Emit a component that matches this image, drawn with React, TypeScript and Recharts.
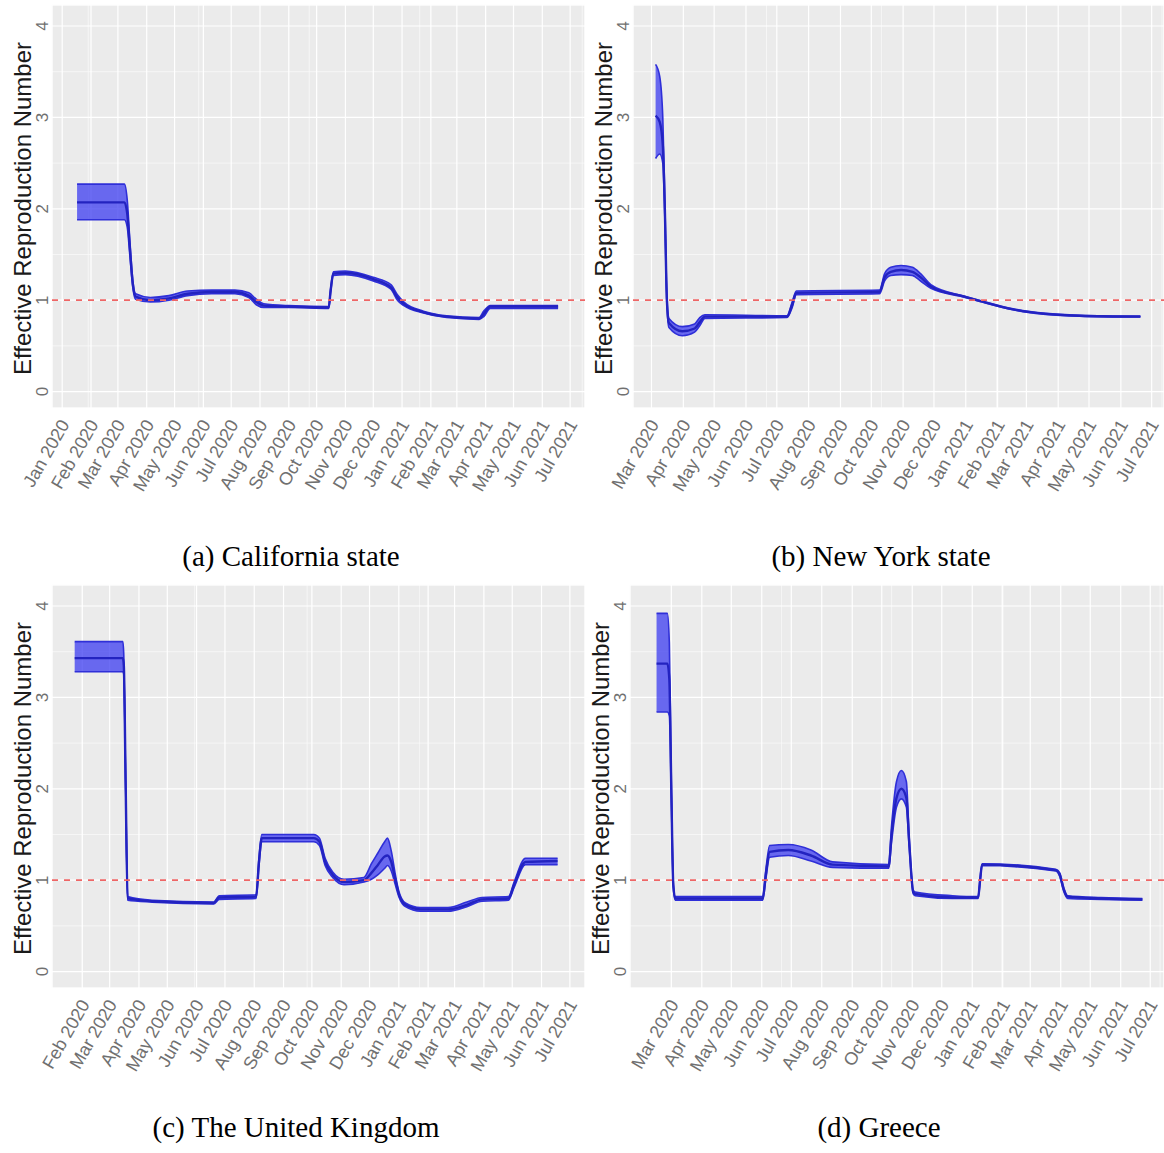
import React from "react";
import {
  ComposedChart,
  Area,
  Line,
  XAxis,
  YAxis,
  CartesianGrid,
  ReferenceLine,
} from "recharts";

// ---------- shared axis data ----------
const MONTH_ABBR = ["Jan", "Feb", "Mar", "Apr", "May", "Jun", "Jul", "Aug", "Sep", "Oct", "Nov", "Dec"];
const ALL_MONTHS = [
  "2020-01-01", "2020-02-01", "2020-03-01", "2020-04-01", "2020-05-01", "2020-06-01",
  "2020-07-01", "2020-08-01", "2020-09-01", "2020-10-01", "2020-11-01", "2020-12-01",
  "2021-01-01", "2021-02-01", "2021-03-01", "2021-04-01", "2021-05-01", "2021-06-01",
  "2021-07-01",
];
const Y_TICKS = [0, 1, 2, 3, 4];
const Y_MINOR = [0.5, 1.5, 2.5, 3.5];
const Y_DOMAIN: [number, number] = [-0.18, 4.23];
const THRESHOLD = 1;
const Y_TITLE = "Effective Reproduction Number";

// ---------- (a) California state ----------
const CAPTION_A = "(a) California state";
const DOMAIN_A = ["2019-12-21", "2021-07-17"];
const FIRST_MONTH_A = "2020-01-01";
const DATES_A = [
  "2020-01-17", "2020-03-08", "2020-03-11", "2020-03-14", "2020-03-17", "2020-03-20",
  "2020-04-05", "2020-04-25", "2020-05-15", "2020-06-10", "2020-07-05", "2020-07-20",
  "2020-07-28", "2020-08-05", "2020-09-01", "2020-10-14", "2020-10-16", "2020-10-19",
  "2020-11-01", "2020-12-01", "2020-12-20", "2020-12-27", "2021-01-03", "2021-01-24",
  "2021-02-18", "2021-03-25", "2021-03-30", "2021-04-06", "2021-06-18",
];
const MEAN_A = [2.07, 2.07, 1.95, 1.55, 1.18, 1.04, 1.0, 1.02, 1.07, 1.09, 1.09, 1.05, 0.98, 0.94, 0.93, 0.92, 1.1, 1.29, 1.3, 1.23, 1.14, 1.03, 0.96, 0.87, 0.82, 0.8, 0.85, 0.93, 0.93];
const LOW_A = [1.88, 1.88, 1.8, 1.47, 1.14, 1.01, 0.98, 1.0, 1.05, 1.07, 1.07, 1.03, 0.95, 0.92, 0.92, 0.91, 1.08, 1.27, 1.28, 1.21, 1.12, 1.0, 0.94, 0.86, 0.81, 0.79, 0.82, 0.91, 0.91];
const HIGH_A = [2.27, 2.27, 2.1, 1.63, 1.22, 1.07, 1.03, 1.05, 1.1, 1.11, 1.11, 1.08, 1.01, 0.96, 0.94, 0.93, 1.12, 1.31, 1.32, 1.25, 1.17, 1.06, 0.98, 0.88, 0.83, 0.81, 0.88, 0.94, 0.94];

// ---------- (b) New York state ----------
const CAPTION_B = "(b) New York state";
const DOMAIN_B = ["2020-02-12", "2021-07-13"];
const FIRST_MONTH_B = "2020-03-01";
const DATES_B = [
  "2020-03-05", "2020-03-09", "2020-03-12", "2020-03-14", "2020-03-16", "2020-03-18",
  "2020-03-31", "2020-04-12", "2020-04-17", "2020-04-22", "2020-07-11", "2020-07-16",
  "2020-07-20", "2020-10-09", "2020-10-14", "2020-10-20", "2020-10-30", "2020-11-10",
  "2020-11-18", "2020-11-28", "2020-12-30", "2021-01-15", "2021-02-16", "2021-03-20",
  "2021-04-22", "2021-06-20",
];
const MEAN_B = [3.02, 2.95, 2.7, 2.0, 1.0, 0.75, 0.66, 0.69, 0.76, 0.82, 0.82, 0.95, 1.08, 1.09, 1.25, 1.31, 1.33, 1.31, 1.25, 1.15, 1.04, 0.99, 0.9, 0.85, 0.83, 0.82];
const LOW_B = [2.55, 2.6, 2.5, 1.9, 0.95, 0.7, 0.61, 0.65, 0.72, 0.8, 0.81, 0.92, 1.06, 1.07, 1.21, 1.27, 1.28, 1.27, 1.21, 1.13, 1.035, 0.985, 0.895, 0.845, 0.825, 0.815];
const HIGH_B = [3.58, 3.45, 3.0, 2.1, 1.05, 0.8, 0.71, 0.74, 0.81, 0.84, 0.83, 0.98, 1.1, 1.11, 1.29, 1.36, 1.38, 1.36, 1.29, 1.17, 1.045, 0.995, 0.905, 0.855, 0.835, 0.825];

// ---------- (c) The United Kingdom ----------
const CAPTION_C = "(c) The United Kingdom";
const DOMAIN_C = ["2019-12-31", "2021-07-17"];
const FIRST_MONTH_C = "2020-02-01";
const DATES_C = [
  "2020-01-24", "2020-03-15", "2020-03-16", "2020-03-18", "2020-03-20", "2020-04-15",
  "2020-06-19", "2020-06-25", "2020-08-03", "2020-08-06", "2020-08-09", "2020-10-03",
  "2020-10-09", "2020-10-15", "2020-10-23", "2020-11-04", "2020-11-25", "2020-12-03",
  "2020-12-10", "2020-12-17", "2020-12-20", "2020-12-24", "2020-12-28", "2021-01-01",
  "2021-01-08", "2021-01-24", "2021-02-22", "2021-03-14", "2021-03-30", "2021-04-27",
  "2021-05-03", "2021-05-15", "2021-06-18",
];
const MEAN_C = [3.43, 3.43, 3.35, 2.0, 0.8, 0.77, 0.75, 0.81, 0.82, 1.2, 1.46, 1.46, 1.42, 1.2, 1.06, 0.98, 1.0, 1.08, 1.17, 1.26, 1.27, 1.2, 1.02, 0.85, 0.73, 0.68, 0.68, 0.73, 0.79, 0.8, 0.95, 1.2, 1.21];
const LOW_C = [3.28, 3.28, 3.25, 1.97, 0.78, 0.76, 0.74, 0.79, 0.8, 1.16, 1.42, 1.42, 1.38, 1.16, 1.03, 0.95, 0.98, 1.01, 1.06, 1.13, 1.16, 1.1, 0.96, 0.82, 0.71, 0.66, 0.66, 0.71, 0.77, 0.78, 0.92, 1.17, 1.17];
const HIGH_C = [3.61, 3.61, 3.45, 2.03, 0.82, 0.78, 0.76, 0.83, 0.84, 1.24, 1.5, 1.5, 1.46, 1.24, 1.09, 1.01, 1.03, 1.18, 1.3, 1.42, 1.46, 1.32, 1.08, 0.88, 0.75, 0.7, 0.7, 0.76, 0.81, 0.82, 0.98, 1.24, 1.24];

// ---------- (d) Greece ----------
const CAPTION_D = "(d) Greece";
const DOMAIN_D = ["2020-01-19", "2021-07-15"];
const FIRST_MONTH_D = "2020-03-01";
const DATES_D = [
  "2020-02-15", "2020-02-26", "2020-02-28", "2020-03-01", "2020-03-03", "2020-03-05",
  "2020-06-02", "2020-06-05", "2020-06-09", "2020-06-28", "2020-07-21", "2020-08-12",
  "2020-10-08", "2020-10-11", "2020-10-16", "2020-10-21", "2020-10-26", "2020-10-29",
  "2020-11-02", "2020-11-04", "2020-12-12", "2021-01-07", "2021-01-09", "2021-01-11",
  "2021-03-27", "2021-03-31", "2021-04-04", "2021-04-08", "2021-05-12", "2021-06-23",
];
const MEAN_D = [3.37, 3.37, 3.2, 2.0, 0.95, 0.8, 0.8, 1.05, 1.31, 1.33, 1.27, 1.17, 1.15, 1.5, 1.9, 2.0, 1.9, 1.4, 0.87, 0.85, 0.81, 0.81, 1.0, 1.17, 1.11, 1.06, 0.9, 0.82, 0.8, 0.79];
const LOW_D = [2.84, 2.84, 2.8, 1.9, 0.92, 0.78, 0.78, 1.0, 1.25, 1.27, 1.21, 1.14, 1.13, 1.42, 1.8, 1.89, 1.8, 1.35, 0.85, 0.83, 0.8, 0.8, 0.98, 1.16, 1.1, 1.04, 0.88, 0.8, 0.79, 0.78];
const HIGH_D = [3.92, 3.92, 3.6, 2.1, 0.98, 0.82, 0.82, 1.1, 1.38, 1.39, 1.33, 1.2, 1.17, 1.6, 2.08, 2.2, 2.08, 1.45, 0.89, 0.87, 0.83, 0.82, 1.02, 1.18, 1.12, 1.08, 0.92, 0.83, 0.81, 0.8];

// ---------- styling ----------
const SANS = "'Liberation Sans', Arial, Helvetica, sans-serif";
const SERIF = "'Liberation Serif', 'Times New Roman', Times, serif";
const PANEL_BG = "#ebebeb";
const TICK_COLOR = "#707070";
const BAND_FILL = "#3535f0";
const BAND_EDGE = "#2f2fd8";
const LINE_COLOR = "#2323c0";
const DAY = 86400000;

const ts = (s: string) => new Date(s + "T00:00:00Z").getTime();

const XTick = (props: any) => {
  const { x, y, payload } = props;
  const d = new Date(payload.value);
  const label = `${MONTH_ABBR[d.getUTCMonth()]} ${d.getUTCFullYear()}`;
  return (
    <g transform={`translate(${x - 3},${y})`}>
      <text
        x={0}
        y={0}
        dy="0.7em"
        transform="rotate(-60)"
        textAnchor="end"
        fontSize={18}
        fill={TICK_COLOR}
        fontFamily={SANS}
      >
        {label}
      </text>
    </g>
  );
};

const YTick = (props: any) => {
  const { x, y, payload } = props;
  return (
    <text
      x={x}
      y={y}
      transform={`rotate(-90, ${x}, ${y})`}
      textAnchor="middle"
      fontSize={17}
      fill={TICK_COLOR}
      fontFamily={SANS}
    >
      {payload.value}
    </text>
  );
};

type PanelProps = {
  left: number;
  top: number;
  width: number;
  dates: string[];
  mean: number[];
  low: number[];
  high: number[];
  domain: string[];
  firstMonth: string;
};

function Panel({ left, top, width, dates, mean, low, high, domain, firstMonth }: PanelProps) {
  const data = dates.map((d, i) => ({ t: ts(d), mean: mean[i], range: [low[i], high[i]] }));
  const dom: [number, number] = [ts(domain[0]), ts(domain[1])];
  const months = ALL_MONTHS.slice(ALL_MONTHS.indexOf(firstMonth)).map(ts);
  const weeks: number[] = [];
  for (let t = months[0]; t >= dom[0]; t -= 7 * DAY) weeks.unshift(t);
  for (let t = months[0] + 7 * DAY; t <= dom[1]; t += 7 * DAY) weeks.push(t);

  return (
    <div style={{ position: "absolute", left, top }}>
      <ComposedChart width={width} height={520} data={data} margin={{ top: 5, right: 0, bottom: 0, left: 0 }}>
        <XAxis xAxisId="minor" dataKey="t" type="number" domain={dom} ticks={weeks} hide allowDataOverflow />
        <YAxis yAxisId="minor" type="number" domain={Y_DOMAIN} ticks={Y_MINOR} hide allowDataOverflow />
        <CartesianGrid xAxisId="minor" yAxisId="minor" fill={PANEL_BG} stroke="#fbfbfb" strokeWidth={0.7} />
        <CartesianGrid stroke="#ffffff" strokeWidth={1.2} />
        <XAxis
          dataKey="t"
          type="number"
          domain={dom}
          ticks={months}
          allowDataOverflow
          height={112}
          tickSize={0}
          tickMargin={10}
          axisLine={false}
          tickLine={false}
          interval={0}
          tick={<XTick />}
        />
        <YAxis
          type="number"
          domain={Y_DOMAIN}
          ticks={Y_TICKS}
          allowDataOverflow
          width={52}
          tickSize={0}
          tickMargin={4}
          axisLine={false}
          tickLine={false}
          interval={0}
          tick={<YTick />}
        />
        <Area
          dataKey="range"
          type="monotone"
          fill={BAND_FILL}
          fillOpacity={0.72}
          stroke={BAND_EDGE}
          strokeWidth={1.6}
          isAnimationActive={false}
          activeDot={false}
        />
        <Line
          dataKey="mean"
          type="monotone"
          stroke={LINE_COLOR}
          strokeWidth={2.4}
          dot={false}
          activeDot={false}
          isAnimationActive={false}
        />
        <ReferenceLine y={THRESHOLD} stroke="#ee6666" strokeWidth={1.8} strokeDasharray="6 6" />
      </ComposedChart>
    </div>
  );
}

const TITLES = [
  { x: 31, y: 208.5 },
  { x: 612, y: 208.5 },
  { x: 31, y: 788.5 },
  { x: 609, y: 788.5 },
];
const CAPTIONS = [
  { text: CAPTION_A, x: 291, y: 566 },
  { text: CAPTION_B, x: 881, y: 566 },
  { text: CAPTION_C, x: 296, y: 1137 },
  { text: CAPTION_D, x: 879, y: 1137 },
];

export default function App() {
  return (
    <div style={{ position: "absolute", left: 0, top: 0, width: 1164, height: 1153, background: "#fff", overflow: "hidden" }}>
      <Panel left={0} top={0} width={585} dates={DATES_A} mean={MEAN_A} low={LOW_A} high={HIGH_A} domain={DOMAIN_A} firstMonth={FIRST_MONTH_A} />
      <Panel left={581} top={0} width={583} dates={DATES_B} mean={MEAN_B} low={LOW_B} high={HIGH_B} domain={DOMAIN_B} firstMonth={FIRST_MONTH_B} />
      <Panel left={0} top={580} width={585} dates={DATES_C} mean={MEAN_C} low={LOW_C} high={HIGH_C} domain={DOMAIN_C} firstMonth={FIRST_MONTH_C} />
      <Panel left={578} top={580} width={586} dates={DATES_D} mean={MEAN_D} low={LOW_D} high={HIGH_D} domain={DOMAIN_D} firstMonth={FIRST_MONTH_D} />
      <svg width={1164} height={1153} style={{ position: "absolute", left: 0, top: 0, pointerEvents: "none" }}>
        {TITLES.map((p, i) => (
          <text
            key={`t${i}`}
            x={p.x}
            y={p.y}
            transform={`rotate(-90, ${p.x}, ${p.y})`}
            textAnchor="middle"
            fontSize={24}
            fill="#1a1a1a"
            fontFamily={SANS}
          >
            {Y_TITLE}
          </text>
        ))}
        {CAPTIONS.map((c, i) => (
          <text key={`c${i}`} x={c.x} y={c.y} textAnchor="middle" fontSize={29} fill="#000" fontFamily={SERIF}>
            {c.text}
          </text>
        ))}
      </svg>
    </div>
  );
}
